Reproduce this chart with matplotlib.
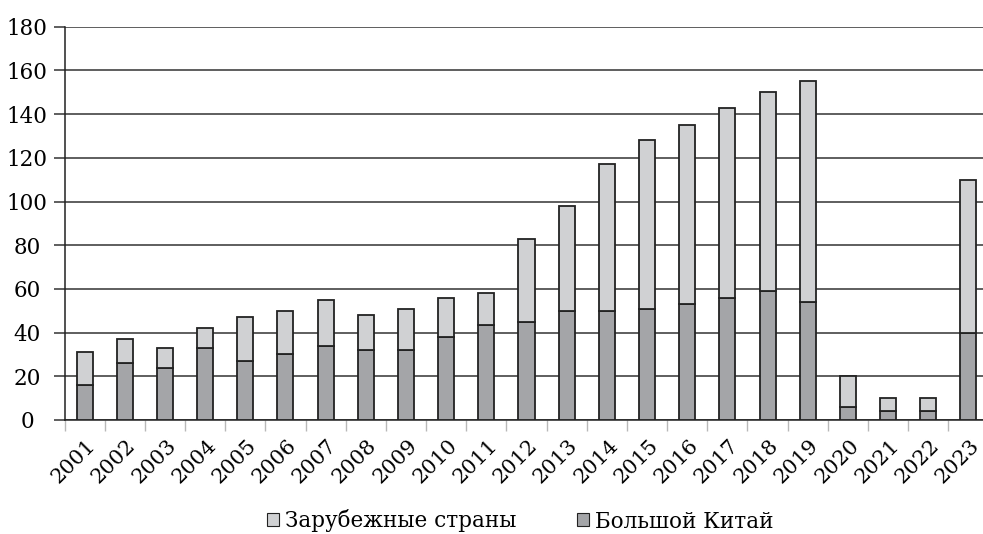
import matplotlib
matplotlib.use("Agg")
import matplotlib.pyplot as plt
from matplotlib.patches import Patch
from matplotlib.transforms import ScaledTranslation
import numpy as np

years = [str(y) for y in range(2001, 2024)]
# total height of each bar and the lower (Greater China) part
totals = [31, 37, 33, 42, 47, 50, 55, 48, 51, 56, 58, 83, 98, 117, 128,
          135, 143, 150, 155, 20, 10, 10, 110]
china = [16, 26, 24, 33, 27, 30, 34, 32, 32, 38, 43.5, 45, 50, 50, 51,
         53, 56, 59, 54, 6, 4, 4, 40]
foreign = [t - c for t, c in zip(totals, china)]

label_foreign = "Зарубежные страны"
label_china = "Большой Китай"

col_foreign = "#d0d1d3"
col_china = "#a4a5a8"
edge = "#222222"

plt.rcParams['font.family'] = ['DejaVu Serif']

fig = plt.figure(figsize=(9.83, 5.34), dpi=100)
ax = fig.add_axes([64.5 / 983, 1 - 420 / 534, 924 / 983, 393.3 / 534])

x = np.arange(len(years))
ax.bar(x, china, width=0.4, color=col_china, edgecolor=edge, linewidth=1.3, zorder=3)
ax.bar(x, foreign, width=0.4, bottom=china, color=col_foreign, edgecolor=edge,
       linewidth=1.3, zorder=3)

ax.set_ylim(0, 180)
ax.set_xlim(-0.5, len(years) - 0.5)
ax.set_yticks(range(0, 181, 20))
ax.yaxis.grid(True, color="#333333", linewidth=1.1, zorder=0)
ax.set_axisbelow(True)

for s in ["top", "right"]:
    ax.spines[s].set_visible(False)
ax.spines["left"].set_color("#222222")
ax.spines["bottom"].set_color("#222222")
ax.spines["left"].set_linewidth(1.1)
ax.spines["bottom"].set_linewidth(1.1)

ax.tick_params(axis="y", length=8, width=1.1, color="#333333", pad=19, labelsize=15.5)
for lbl in ax.get_yticklabels():
    lbl.set_horizontalalignment("center")

ax.set_xticks(x)
ax.set_xticklabels(years, rotation=45, ha="right", va="center",
                   rotation_mode="anchor", fontsize=15)
ax.tick_params(axis="x", which="major", length=0, pad=16)
ax.set_xticks(np.arange(-0.5, len(years), 1.0), minor=True)
ax.tick_params(axis="x", which="minor", length=8, width=1.0, color="#b8b8b8")
off = ScaledTranslation(8 / 100, 0, fig.dpi_scale_trans)
for lbl in ax.get_xticklabels():
    lbl.set_transform(lbl.get_transform() + off)

handles = [Patch(facecolor=col_foreign, edgecolor=edge, linewidth=0.8, label=label_foreign),
           Patch(facecolor=col_china, edgecolor=edge, linewidth=0.8, label=label_china)]
fig.legend(handles=handles, loc="center", bbox_to_anchor=(520.5 / 983, 1 - 521 / 534),
           ncol=2, frameon=False, fontsize=15.5, handlelength=0.56, handleheight=0.56,
           handletextpad=0.28, columnspacing=2.8)

fig.savefig("out.png", dpi=100)
